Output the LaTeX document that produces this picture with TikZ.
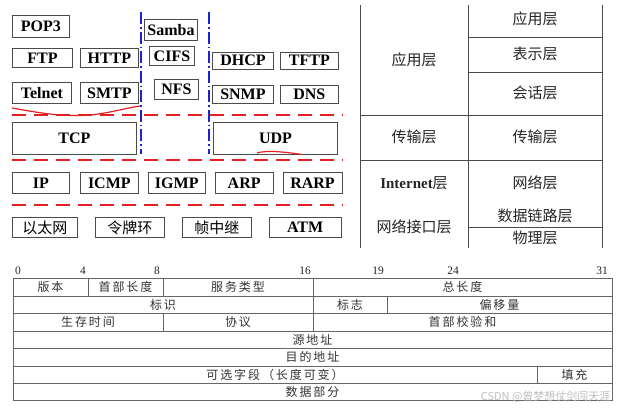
\documentclass[tikz,border=0pt]{standalone}
\usepackage{fontspec}
\setmainfont{Liberation Serif}
\newfontfamily\cjk{Noto Sans CJK SC}
\newfontfamily\cjksp[LetterSpace=16]{Noto Sans CJK SC}
\usepackage{xcolor}
\usetikzlibrary{positioning}
\definecolor{mkred}{RGB}{228,32,36}
\definecolor{mkblue}{RGB}{30,34,215}
\definecolor{frame}{RGB}{75,75,75}

\begin{document}
\begin{tikzpicture}[
  x=1pt, y=-1pt,
  sz/.style 2 args={minimum width=#1pt, minimum height=#2pt},
  box/.style={draw=frame, line width=0.9pt, inner sep=0pt, anchor=north west, font=\fontsize{16}{16}\selectfont\bfseries},
  zhbox/.style={box, font=\fontsize{15}{15}\selectfont\cjk},
  cut/.style={mkred, line width=1.8pt, dash pattern=on 14pt off 8pt},
  sep/.style={mkblue, line width=1.4pt, dash pattern=on 12pt off 3pt on 1.5pt off 3pt},
  scribble/.style={mkred, line width=1.2pt},
  grid/.style={frame, line width=0.8pt},
  lay/.style={text=black!85, font=\fontsize{15}{15}\selectfont\cjk},
  fld/.style={text=black!80, font=\fontsize{12}{12}\selectfont\cjksp},
  bit/.style={text=black!85, font=\fontsize{11.5}{12}\selectfont}
]
\useasboundingbox (0,0) rectangle (619,408);
\fill[white] (0,0) rectangle (619,408);

% protocol boxes
\node[box, sz={57}{22}] (pop3) at (12,15) {POP3};
\node[box, sz={53}{21}] (samba) at (144,19) {Samba};
\node[box, sz={60}{19}] (ftp) at (12,48) {FTP};
\node[box, sz={58}{19}, right=7pt of ftp] (http) {HTTP};
\node[box, sz={45}{19}] (cifs) at (149,46) {CIFS};
\node[box, sz={61}{17}] (dhcp) at (212,51.5) {DHCP};
\node[box, sz={58}{17}, right=6pt of dhcp] (tftp) {TFTP};
\node[box, sz={59}{21}] (telnet) at (12,82) {Telnet};
\node[box, sz={58}{21}, right=8pt of telnet] (smtp) {SMTP};
\node[box, sz={44}{20}] (nfs) at (154,79) {NFS};
\node[box, sz={61}{18}] (snmp) at (212,85) {SNMP};
\node[box, sz={58}{18}, right=6pt of snmp] (dns) {DNS};
\node[box, sz={124}{32}] (tcp) at (12,122) {TCP};
\node[box, sz={124}{32}] (udp) at (213,122) {UDP};
\node[box, sz={57}{21}] (ip) at (12,172) {IP};
\node[box, sz={58}{21}, right=10pt of ip] (icmp) {ICMP};
\node[box, sz={57}{21}, right=9pt of icmp] (igmp) {IGMP};
\node[box, sz={58}{21}, right=9pt of igmp] (arp) {ARP};
\node[box, sz={59}{21}, right=9pt of arp] (rarp) {RARP};
\node[zhbox, sz={65}{20}] (eth) at (12,217) {以太网};
\node[zhbox, sz={69}{20}, right=17pt of eth] (ring) {令牌环};
\node[zhbox, sz={69}{20}, right=17pt of ring] (frly) {帧中继};
\node[box, sz={72}{20}, right=17pt of frly] (atm) {ATM};

% layer cuts
\foreach \y in {115,160,205}
  \draw[cut] (12,\y) -- (343,\y);
\foreach \x in {141,209}
  \draw[sep] (\x,12) -- (\x,154);
\draw[scribble] (12,108) .. controls (40,113) and (62,117) .. (90,115)
  .. controls (110,113) and (126,108) .. (140,106);
\draw[scribble] (257,153) .. controls (266,150) and (286,152) .. (302,154.5);

% TCP/IP vs OSI
\foreach \x in {360,468,602}
  \draw[grid] (\x,5) -- (\x,248);
\foreach \y in {37,72,227}
  \draw[grid] (468,\y) -- (602,\y);
\foreach \y in {115,160}
  \draw[grid] (360,\y) -- (602,\y);
\node[lay] (tapp) at (414,60) {应用层};
\node[lay] (ttrn) at (414,137) {传输层};
\node[lay] (tnet) at (414,183) {{\rmfamily\bfseries Internet}层};
\node[lay] (tlnk) at (414,227) {网络接口层};
\node[lay] (oapp) at (535,19) {应用层};
\node[lay] (opre) at (535,54) {表示层};
\node[lay] (oses) at (535,93) {会话层};
\node[lay] (otrn) at (535,137) {传输层};
\node[lay] (onet) at (535,183) {网络层};
\node[lay] (odl) at (535,216) {数据链路层};
\node[lay] (ophy) at (535,237.5) {物理层};

% IP header
\foreach \b/\x in {0/18,4/83,8/157,16/305,19/378,24/453,31/602}
  \node[bit] (b\b) at (\x,271) {\b};
\draw[grid, draw=black!60, line width=0.7pt] (13,278) rectangle (612,400);
\foreach \y in {296,313,331,348,366,383}
  \draw[black!60, line width=0.7pt] (13,\y) -- (612,\y);
\foreach \x/\ya/\yb in {88/278/296,163/278/296,313/278/331,387/296/313,163/313/331,537/366/383}
  \draw[black!60, line width=0.7pt] (\x,\ya) -- (\x,\yb);
\node[fld] (ver) at (50.5,287) {版本};
\node[fld] (hlen) at (125.5,287) {首部长度};
\node[fld] (tos) at (238,287) {服务类型};
\node[fld] (tlen) at (462.5,287) {总长度};
\node[fld] (ident) at (163,304.5) {标识};
\node[fld] (flag) at (350,304.5) {标志};
\node[fld] (off) at (499.5,304.5) {偏移量};
\node[fld] (ttl) at (88,322) {生存时间};
\node[fld] (proto) at (238,322) {协议};
\node[fld] (csum) at (462.5,322) {首部校验和};
\node[fld] (src) at (312.5,339.5) {源地址};
\node[fld] (dst) at (312.5,357) {目的地址};
\node[fld] (opt) at (275,374.5) {可选字段（长度可变）};
\node[fld] (pad) at (574.5,374.5) {填充};
\node[fld] (data) at (312.5,391.5) {数据部分};
\node[anchor=east, text=black!25, font=\fontsize{11}{11}\selectfont\cjk] (wmark) at (614,397) {CSDN @曾梦想仗剑闯天涯};
\end{tikzpicture}
\end{document}
